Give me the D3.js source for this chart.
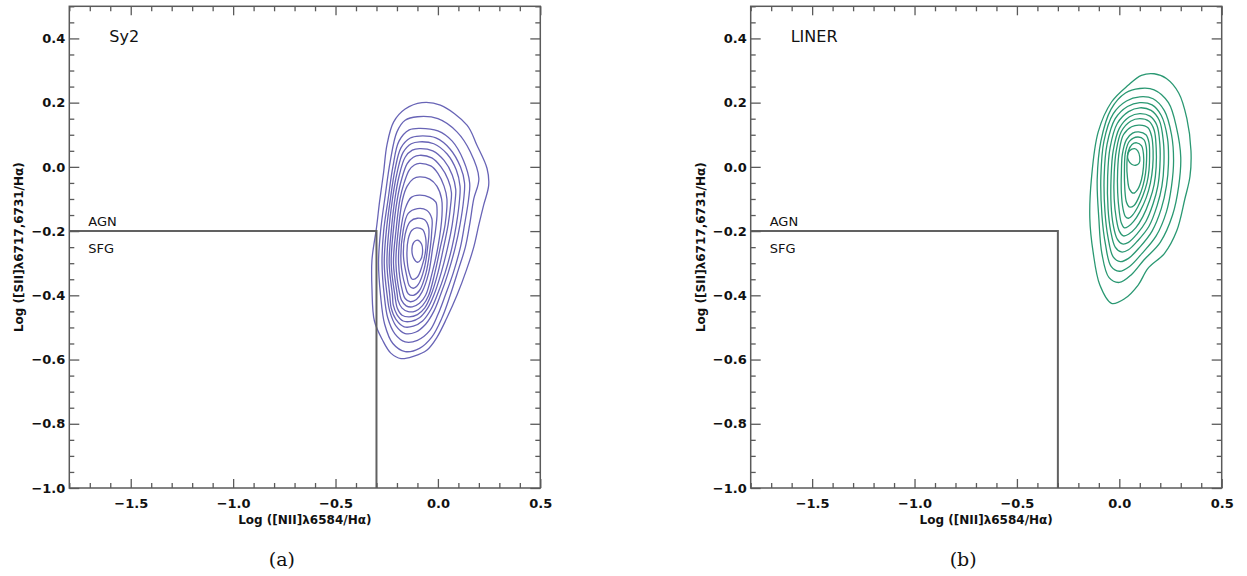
<!DOCTYPE html>
<html>
<head>
<meta charset="utf-8">
<script src="https://cdn.jsdelivr.net/npm/d3@7"></script>
<style>
  body { margin: 0; background: #fff; }
  svg { display: block; }
  .tick text { font-family: "DejaVu Sans", sans-serif; font-weight: bold; font-size: 13px; fill: #111; }
  .axis-title { font-family: "DejaVu Sans", sans-serif; font-weight: bold; font-size: 12px; fill: #111; }
  .panel-title { font-family: "DejaVu Sans", sans-serif; font-size: 16px; fill: #111; }
  .zone-label { font-family: "DejaVu Sans", sans-serif; font-size: 13px; fill: #111; }
  .caption { font-family: "DejaVu Serif", serif; font-size: 19px; fill: #111; }
</style>
</head>
<body>
<div id="chart"></div>
<script>
// axes
const xDomain = [-1.8, 0.5];
const yDomain = [-1.0, 0.5];
const xMajorTicks = [-1.5, -1.0, -0.5, 0.0, 0.5];
const yMajorTicks = [-1.0, -0.8, -0.6, -0.4, -0.2, 0.0, 0.2, 0.4];
const xMinorStep = 0.1;
const yMinorStep = 0.05;

// AGN / SFG demarcation
const divider = [[-1.8, -0.2], [-0.3, -0.2], [-0.3, -1.0]];
const panelTitles = ["Sy2", "LINER"];
const captions = ["(a)", "(b)"];
const xTitle = "Log ([NII]\u03bb6584/H\u03b1)";
const yTitle = "Log ([SII]\u03bb6717,6731/H\u03b1)";

// density contours, outermost first as [log NII/Ha, log SII/Ha]
const sy2Contours = [
  [[-0.078,0.200],[0.012,0.192],[0.142,0.130],[0.19,0.068],[0.24,-0.005],[0.248,-0.057],[0.223,-0.12],[0.2,-0.18],[0.175,-0.25],[0.14,-0.32],[0.093,-0.40],[0.044,-0.47],[-0.004,-0.53],[-0.053,-0.57],[-0.12,-0.59],[-0.18,-0.597],[-0.23,-0.58],[-0.27,-0.54],[-0.31,-0.48],[-0.322,-0.38],[-0.322,-0.29],[-0.30,-0.19],[-0.285,-0.109],[-0.265,-0.016],[-0.249,0.068],[-0.216,0.14],[-0.16,0.18]],
  [[-0.10,0.156],[0.0,0.15],[0.093,0.109],[0.158,0.047],[0.2,-0.036],[0.175,-0.10],[0.155,-0.18],[0.134,-0.25],[0.10,-0.32],[0.06,-0.40],[0.02,-0.47],[-0.03,-0.53],[-0.09,-0.565],[-0.16,-0.575],[-0.22,-0.55],[-0.26,-0.49],[-0.28,-0.40],[-0.29,-0.30],[-0.28,-0.2],[-0.257,-0.088],[-0.233,0.016],[-0.2,0.109],[-0.16,0.145]],
  [[-0.09,0.12],[0.0,0.112],[0.07,0.08],[0.125,0.02],[0.155,-0.05],[0.15,-0.10],[0.13,-0.18],[0.11,-0.25],[0.075,-0.33],[0.036,-0.40],[0.0,-0.46],[-0.04,-0.51],[-0.1,-0.54],[-0.16,-0.545],[-0.21,-0.52],[-0.245,-0.47],[-0.262,-0.40],[-0.273,-0.30],[-0.265,-0.2],[-0.243,-0.1],[-0.22,0.0],[-0.19,0.08],[-0.14,0.115]],
  [[-0.09,0.096],[-0.01,0.09],[0.06,0.055],[0.11,0.0],[0.13,-0.05],[0.126,-0.10],[0.108,-0.18],[0.085,-0.25],[0.05,-0.33],[0.012,-0.40],[-0.02,-0.45],[-0.06,-0.49],[-0.11,-0.515],[-0.16,-0.519],[-0.205,-0.495],[-0.235,-0.45],[-0.248,-0.40],[-0.262,-0.30],[-0.252,-0.2],[-0.232,-0.1],[-0.21,-0.01],[-0.18,0.06],[-0.135,0.09]],
  [[-0.09,0.078],[-0.02,0.072],[0.045,0.04],[0.09,-0.01],[0.108,-0.06],[0.106,-0.10],[0.09,-0.18],[0.069,-0.25],[0.035,-0.33],[-0.004,-0.40],[-0.035,-0.445],[-0.075,-0.48],[-0.12,-0.496],[-0.165,-0.498],[-0.205,-0.475],[-0.228,-0.44],[-0.235,-0.40],[-0.249,-0.30],[-0.24,-0.2],[-0.222,-0.1],[-0.2,-0.02],[-0.17,0.045],[-0.13,0.072]],
  [[-0.09,0.057],[-0.025,0.05],[0.03,0.02],[0.07,-0.025],[0.087,-0.07],[0.085,-0.10],[0.07,-0.18],[0.048,-0.25],[0.016,-0.33],[-0.02,-0.40],[-0.05,-0.44],[-0.09,-0.47],[-0.13,-0.481],[-0.17,-0.48],[-0.2,-0.46],[-0.218,-0.43],[-0.222,-0.40],[-0.238,-0.30],[-0.228,-0.2],[-0.21,-0.1],[-0.19,-0.03],[-0.16,0.03],[-0.125,0.052]],
  [[-0.09,0.036],[-0.03,0.028],[0.015,0.0],[0.05,-0.04],[0.066,-0.08],[0.062,-0.12],[0.05,-0.18],[0.028,-0.25],[0.0,-0.33],[-0.034,-0.40],[-0.065,-0.44],[-0.1,-0.46],[-0.14,-0.467],[-0.175,-0.462],[-0.198,-0.44],[-0.21,-0.40],[-0.228,-0.30],[-0.218,-0.2],[-0.198,-0.1],[-0.178,-0.04],[-0.15,0.01],[-0.12,0.03]],
  [[-0.09,0.011],[-0.035,0.003],[0.0,-0.02],[0.03,-0.06],[0.044,-0.10],[0.035,-0.18],[0.012,-0.25],[-0.015,-0.33],[-0.045,-0.40],[-0.075,-0.432],[-0.11,-0.449],[-0.145,-0.451],[-0.175,-0.44],[-0.195,-0.415],[-0.198,-0.40],[-0.217,-0.30],[-0.205,-0.2],[-0.185,-0.1],[-0.165,-0.05],[-0.14,-0.01],[-0.115,0.006]],
  [[-0.09,-0.031],[-0.04,-0.038],[-0.005,-0.06],[0.018,-0.10],[0.02,-0.15],[0.0,-0.25],[-0.028,-0.33],[-0.06,-0.40],[-0.09,-0.425],[-0.125,-0.436],[-0.155,-0.433],[-0.178,-0.415],[-0.185,-0.40],[-0.205,-0.30],[-0.194,-0.2],[-0.172,-0.1],[-0.15,-0.06],[-0.12,-0.037]],
  [[-0.09,-0.088],[-0.04,-0.095],[-0.01,-0.11],[-0.004,-0.14],[-0.012,-0.20],[-0.025,-0.25],[-0.045,-0.33],[-0.078,-0.39],[-0.105,-0.413],[-0.135,-0.42],[-0.16,-0.41],[-0.172,-0.39],[-0.192,-0.30],[-0.182,-0.2],[-0.16,-0.13],[-0.13,-0.095]],
  [[-0.1,-0.13],[-0.055,-0.135],[-0.03,-0.16],[-0.03,-0.2],[-0.037,-0.25],[-0.058,-0.33],[-0.09,-0.385],[-0.12,-0.40],[-0.145,-0.395],[-0.16,-0.37],[-0.18,-0.30],[-0.17,-0.2],[-0.145,-0.145]],
  [[-0.1,-0.16],[-0.065,-0.165],[-0.045,-0.19],[-0.05,-0.25],[-0.068,-0.32],[-0.095,-0.365],[-0.12,-0.378],[-0.14,-0.37],[-0.152,-0.34],[-0.168,-0.28],[-0.16,-0.21],[-0.135,-0.17]],
  [[-0.105,-0.19],[-0.075,-0.195],[-0.06,-0.22],[-0.06,-0.26],[-0.078,-0.31],[-0.1,-0.343],[-0.125,-0.35],[-0.14,-0.33],[-0.151,-0.28],[-0.145,-0.225],[-0.128,-0.198]],
  [[-0.1,-0.228],[-0.08,-0.24],[-0.075,-0.265],[-0.085,-0.29],[-0.1,-0.297],[-0.118,-0.285],[-0.127,-0.26],[-0.118,-0.235]]
];

const linerContours = [
  [[0.108,0.285],[0.17,0.29],[0.23,0.275],[0.29,0.23],[0.33,0.15],[0.35,0.05],[0.345,-0.03],[0.32,-0.10],[0.28,-0.2],[0.22,-0.27],[0.14,-0.316],[0.092,-0.368],[0.027,-0.41],[-0.038,-0.425],[-0.095,-0.368],[-0.128,-0.265],[-0.144,-0.16],[-0.136,-0.036],[-0.103,0.109],[-0.038,0.202],[0.043,0.254]],
  [[0.1,0.244],[0.17,0.24],[0.24,0.2],[0.28,0.12],[0.30,0.03],[0.29,-0.06],[0.26,-0.15],[0.2,-0.235],[0.12,-0.29],[0.06,-0.335],[0.0,-0.36],[-0.05,-0.345],[-0.085,-0.27],[-0.1,-0.16],[-0.108,-0.04],[-0.09,0.08],[-0.04,0.18],[0.03,0.23]],
  [[0.1,0.218],[0.165,0.212],[0.22,0.175],[0.255,0.1],[0.265,0.02],[0.255,-0.06],[0.23,-0.14],[0.18,-0.215],[0.11,-0.27],[0.05,-0.31],[0.0,-0.325],[-0.04,-0.31],[-0.068,-0.24],[-0.085,-0.15],[-0.09,-0.03],[-0.075,0.08],[-0.03,0.165],[0.035,0.205]],
  [[0.1,0.2],[0.16,0.193],[0.205,0.16],[0.235,0.09],[0.24,0.01],[0.23,-0.06],[0.205,-0.13],[0.16,-0.2],[0.1,-0.25],[0.045,-0.285],[0.005,-0.295],[-0.03,-0.28],[-0.055,-0.22],[-0.07,-0.14],[-0.074,-0.03],[-0.06,0.07],[-0.02,0.15],[0.04,0.188]],
  [[0.1,0.184],[0.155,0.176],[0.195,0.145],[0.215,0.08],[0.218,0.01],[0.208,-0.06],[0.185,-0.12],[0.145,-0.185],[0.09,-0.23],[0.045,-0.258],[0.01,-0.265],[-0.02,-0.25],[-0.042,-0.2],[-0.055,-0.13],[-0.057,-0.03],[-0.045,0.06],[-0.01,0.135],[0.045,0.172]],
  [[0.1,0.166],[0.15,0.158],[0.183,0.13],[0.198,0.07],[0.198,0.0],[0.188,-0.06],[0.165,-0.115],[0.13,-0.17],[0.085,-0.21],[0.045,-0.235],[0.015,-0.24],[-0.01,-0.225],[-0.03,-0.18],[-0.04,-0.12],[-0.04,-0.03],[-0.03,0.05],[0.0,0.12],[0.05,0.156]],
  [[0.1,0.15],[0.145,0.142],[0.17,0.115],[0.18,0.06],[0.18,0.0],[0.17,-0.055],[0.148,-0.105],[0.115,-0.155],[0.08,-0.19],[0.045,-0.21],[0.02,-0.215],[0.0,-0.2],[-0.015,-0.16],[-0.025,-0.1],[-0.025,-0.02],[-0.015,0.05],[0.01,0.11],[0.055,0.142]],
  [[0.1,0.13],[0.14,0.122],[0.158,0.095],[0.165,0.05],[0.163,0.0],[0.152,-0.05],[0.132,-0.095],[0.1,-0.14],[0.07,-0.17],[0.045,-0.185],[0.025,-0.19],[0.01,-0.175],[0.0,-0.14],[-0.008,-0.08],[-0.008,-0.01],[0.0,0.05],[0.02,0.1],[0.06,0.125]],
  [[0.095,0.109],[0.13,0.1],[0.145,0.075],[0.148,0.035],[0.145,-0.01],[0.135,-0.05],[0.115,-0.09],[0.09,-0.125],[0.065,-0.15],[0.045,-0.16],[0.03,-0.155],[0.018,-0.13],[0.01,-0.08],[0.01,-0.02],[0.015,0.04],[0.035,0.085],[0.065,0.105]],
  [[0.09,0.093],[0.12,0.085],[0.132,0.06],[0.133,0.02],[0.128,-0.02],[0.115,-0.06],[0.095,-0.095],[0.072,-0.12],[0.05,-0.125],[0.035,-0.11],[0.027,-0.07],[0.025,-0.01],[0.03,0.045],[0.05,0.08]],
  [[0.085,0.075],[0.108,0.066],[0.118,0.04],[0.118,0.0],[0.108,-0.04],[0.09,-0.07],[0.07,-0.082],[0.05,-0.07],[0.04,-0.035],[0.037,0.01],[0.045,0.05],[0.062,0.07]],
  [[0.075,0.057],[0.09,0.05],[0.1,0.03],[0.097,0.012],[0.08,0.005],[0.06,0.008],[0.045,0.02],[0.04,0.035],[0.05,0.05]]
];

const sy2Color = "#6864b6";
const linerColor = "#2a9872";
const axisColor = "#5a5a5a";

const width = 1247, height = 576;
const plotW = 471, plotTop = 6.3, plotBottom = 488;
const panelLefts = [69.3, 750.7];

const svg = d3.select("#chart").append("svg")
    .attr("width", width)
    .attr("height", height);

function drawPanel(i, contours, color) {
    const left = panelLefts[i];
    const g = svg.append("g");

    const x = d3.scaleLinear().domain(xDomain).range([left, left + plotW]);
    const y = d3.scaleLinear().domain(yDomain).range([plotBottom, plotTop]);

    const xMinor = d3.range(-1.8, 0.5001, xMinorStep).map(v => +v.toFixed(2))
        .filter(v => !xMajorTicks.some(t => Math.abs(t - v) < 1e-6));
    const yMinor = d3.range(-1.0, 0.5001, yMinorStep).map(v => +v.toFixed(2))
        .filter(v => !yMajorTicks.some(t => Math.abs(t - v) < 1e-6));
    const fmt = d3.format(".1f");

    // contours
    const line = d3.line()
        .x(d => x(d[0]))
        .y(d => y(d[1]))
        .curve(d3.curveCatmullRomClosed.alpha(0.5));
    g.append("g").selectAll("path")
        .data(contours)
        .join("path")
        .attr("d", line)
        .attr("fill", "none")
        .attr("stroke", color)
        .attr("stroke-width", 1.3);

    // AGN / SFG separation
    g.append("path")
        .datum(divider)
        .attr("d", d3.line().x(d => x(d[0])).y(d => y(d[1])))
        .attr("fill", "none")
        .attr("stroke", "#616161")
        .attr("stroke-width", 2);

    // axes with inward ticks on all four sides
    const addAxis = (axis, tx, ty, labels) => {
        const a = g.append("g").attr("transform", `translate(${tx},${ty})`).call(axis);
        a.select(".domain").remove();
        a.selectAll(".tick line").attr("stroke", axisColor).attr("stroke-width", 1.3);
        if (!labels) a.selectAll(".tick text").remove();
        return a;
    };
    addAxis(d3.axisBottom(x).tickValues(xMinor).tickSize(-5), 0, plotBottom, false);
    addAxis(d3.axisBottom(x).tickValues(xMajorTicks).tickSize(-9).tickPadding(11).tickFormat(fmt), 0, plotBottom, true);
    addAxis(d3.axisTop(x).tickValues(xMinor).tickSize(-5), 0, plotTop, false);
    addAxis(d3.axisTop(x).tickValues(xMajorTicks).tickSize(-9), 0, plotTop, false);
    addAxis(d3.axisLeft(y).tickValues(yMinor).tickSize(-5), left, 0, false);
    addAxis(d3.axisLeft(y).tickValues(yMajorTicks).tickSize(-10).tickPadding(4).tickFormat(fmt), left, 0, true);
    addAxis(d3.axisRight(y).tickValues(yMinor).tickSize(-5), left + plotW, 0, false);
    addAxis(d3.axisRight(y).tickValues(yMajorTicks).tickSize(-10), left + plotW, 0, false);

    g.append("rect")
        .attr("x", left)
        .attr("y", plotTop)
        .attr("width", plotW)
        .attr("height", plotBottom - plotTop)
        .attr("fill", "none")
        .attr("stroke", axisColor)
        .attr("stroke-width", 1.5);

    // texts
    g.append("text").attr("class", "panel-title")
        .attr("x", left + 40).attr("y", 42)
        .text(panelTitles[i]);
    g.append("text").attr("class", "zone-label")
        .attr("x", left + 19).attr("y", y(-0.2) - 5)
        .text("AGN");
    g.append("text").attr("class", "zone-label")
        .attr("x", left + 19).attr("y", y(-0.2) + 22)
        .text("SFG");

    g.append("text").attr("class", "axis-title")
        .attr("x", left + plotW / 2).attr("y", 524)
        .attr("text-anchor", "middle")
        .text(xTitle);
    g.append("text").attr("class", "axis-title")
        .attr("transform", `translate(${left - 46},${(plotTop + plotBottom) / 2}) rotate(-90)`)
        .attr("text-anchor", "middle")
        .text(yTitle);

    g.append("text").attr("class", "caption")
        .attr("x", left + plotW / 2 - 23).attr("y", 566)
        .attr("text-anchor", "middle")
        .text(captions[i]);
}

drawPanel(0, sy2Contours, sy2Color);
drawPanel(1, linerContours, linerColor);
</script>
</body>
</html>
